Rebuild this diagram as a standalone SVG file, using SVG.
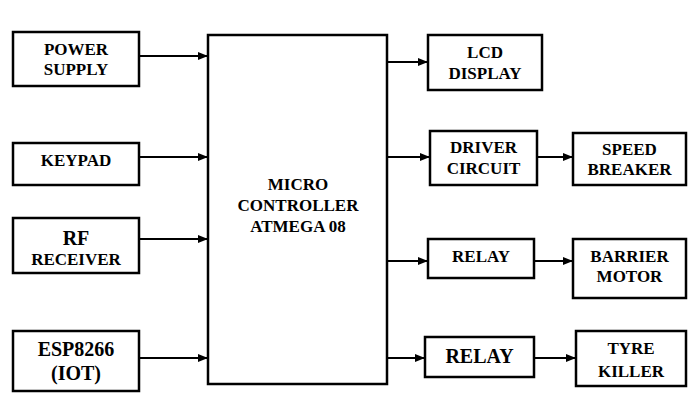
<svg xmlns="http://www.w3.org/2000/svg" width="699" height="418" viewBox="0 0 699 418">
<defs>
<marker id="ah" markerWidth="10" markerHeight="8" refX="10" refY="4" orient="auto" markerUnits="userSpaceOnUse">
<path d="M0,0 L10,4 L0,8 Z" fill="#000"/>
</marker>
<style>
.box{fill:#fff;stroke:#000;stroke-width:2.5}
.t{font-family:"Liberation Serif","Times New Roman",serif;font-weight:bold;font-size:17px;text-anchor:middle;fill:#000}
.big{font-size:20px}
.c{stroke:#000;stroke-width:2;fill:none;marker-end:url(#ah)}
</style>
</defs>
<rect width="699" height="418" fill="#fff"/>
<g id="power"><rect class="box" x="13" y="32" width="126" height="54"/><text class="t" x="76" y="55">POWER</text><text class="t" x="76" y="75">SUPPLY</text></g>
<g id="keypad"><rect class="box" x="13" y="143" width="126" height="42"/><text class="t" x="76" y="166">KEYPAD</text></g>
<g id="rf"><rect class="box" x="13" y="218" width="126" height="55"/><text class="t big" x="76" y="245">RF</text><text class="t" x="76" y="265">RECEIVER</text></g>
<g id="esp"><rect class="box" x="13" y="331" width="126" height="60"/><text class="t big" x="76" y="356">ESP8266</text><text class="t big" x="76" y="380">(IOT)</text></g>
<g id="mcu"><rect class="box" x="208" y="35" width="179" height="349"/><text class="t" x="298" y="190">MICRO</text><text class="t" x="298" y="211">CONTROLLER</text><text class="t" x="298" y="232">ATMEGA 08</text></g>
<g id="lcd"><rect class="box" x="428" y="35" width="114" height="55"/><text class="t" x="485" y="58">LCD</text><text class="t" x="485" y="79">DISPLAY</text></g>
<g id="driver"><rect class="box" x="430" y="131" width="107" height="54"/><text class="t" x="483.5" y="153">DRIVER</text><text class="t" x="483.5" y="174">CIRCUIT</text></g>
<g id="speed"><rect class="box" x="573" y="133" width="113" height="52"/><text class="t" x="629.5" y="155">SPEED</text><text class="t" x="629.5" y="175">BREAKER</text></g>
<g id="relay1"><rect class="box" x="428" y="239" width="106" height="39"/><text class="t" x="481" y="262">RELAY</text></g>
<g id="barrier"><rect class="box" x="573" y="239" width="113" height="59"/><text class="t" x="629.5" y="262">BARRIER</text><text class="t" x="629.5" y="282">MOTOR</text></g>
<g id="relay2"><rect class="box" x="425" y="337" width="109" height="40"/><text class="t big" x="479.5" y="363">RELAY</text></g>
<g id="tyre"><rect class="box" x="576" y="331" width="110" height="55"/><text class="t" x="631" y="354">TYRE</text><text class="t" x="631" y="377">KILLER</text></g>
<g id="connectors">
<line class="c" x1="139" y1="56" x2="208" y2="56"/>
<line class="c" x1="139" y1="157" x2="208" y2="157"/>
<line class="c" x1="139" y1="239" x2="208" y2="239"/>
<line class="c" x1="139" y1="358" x2="208" y2="358"/>
<line class="c" x1="387" y1="62" x2="428" y2="62"/>
<line class="c" x1="387" y1="157" x2="430" y2="157"/>
<line class="c" x1="537" y1="157" x2="573" y2="157"/>
<line class="c" x1="387" y1="261" x2="428" y2="261"/>
<line class="c" x1="534" y1="261" x2="573" y2="261"/>
<line class="c" x1="387" y1="358" x2="425" y2="358"/>
<line class="c" x1="534" y1="358" x2="576" y2="358"/>
</g>
</svg>
